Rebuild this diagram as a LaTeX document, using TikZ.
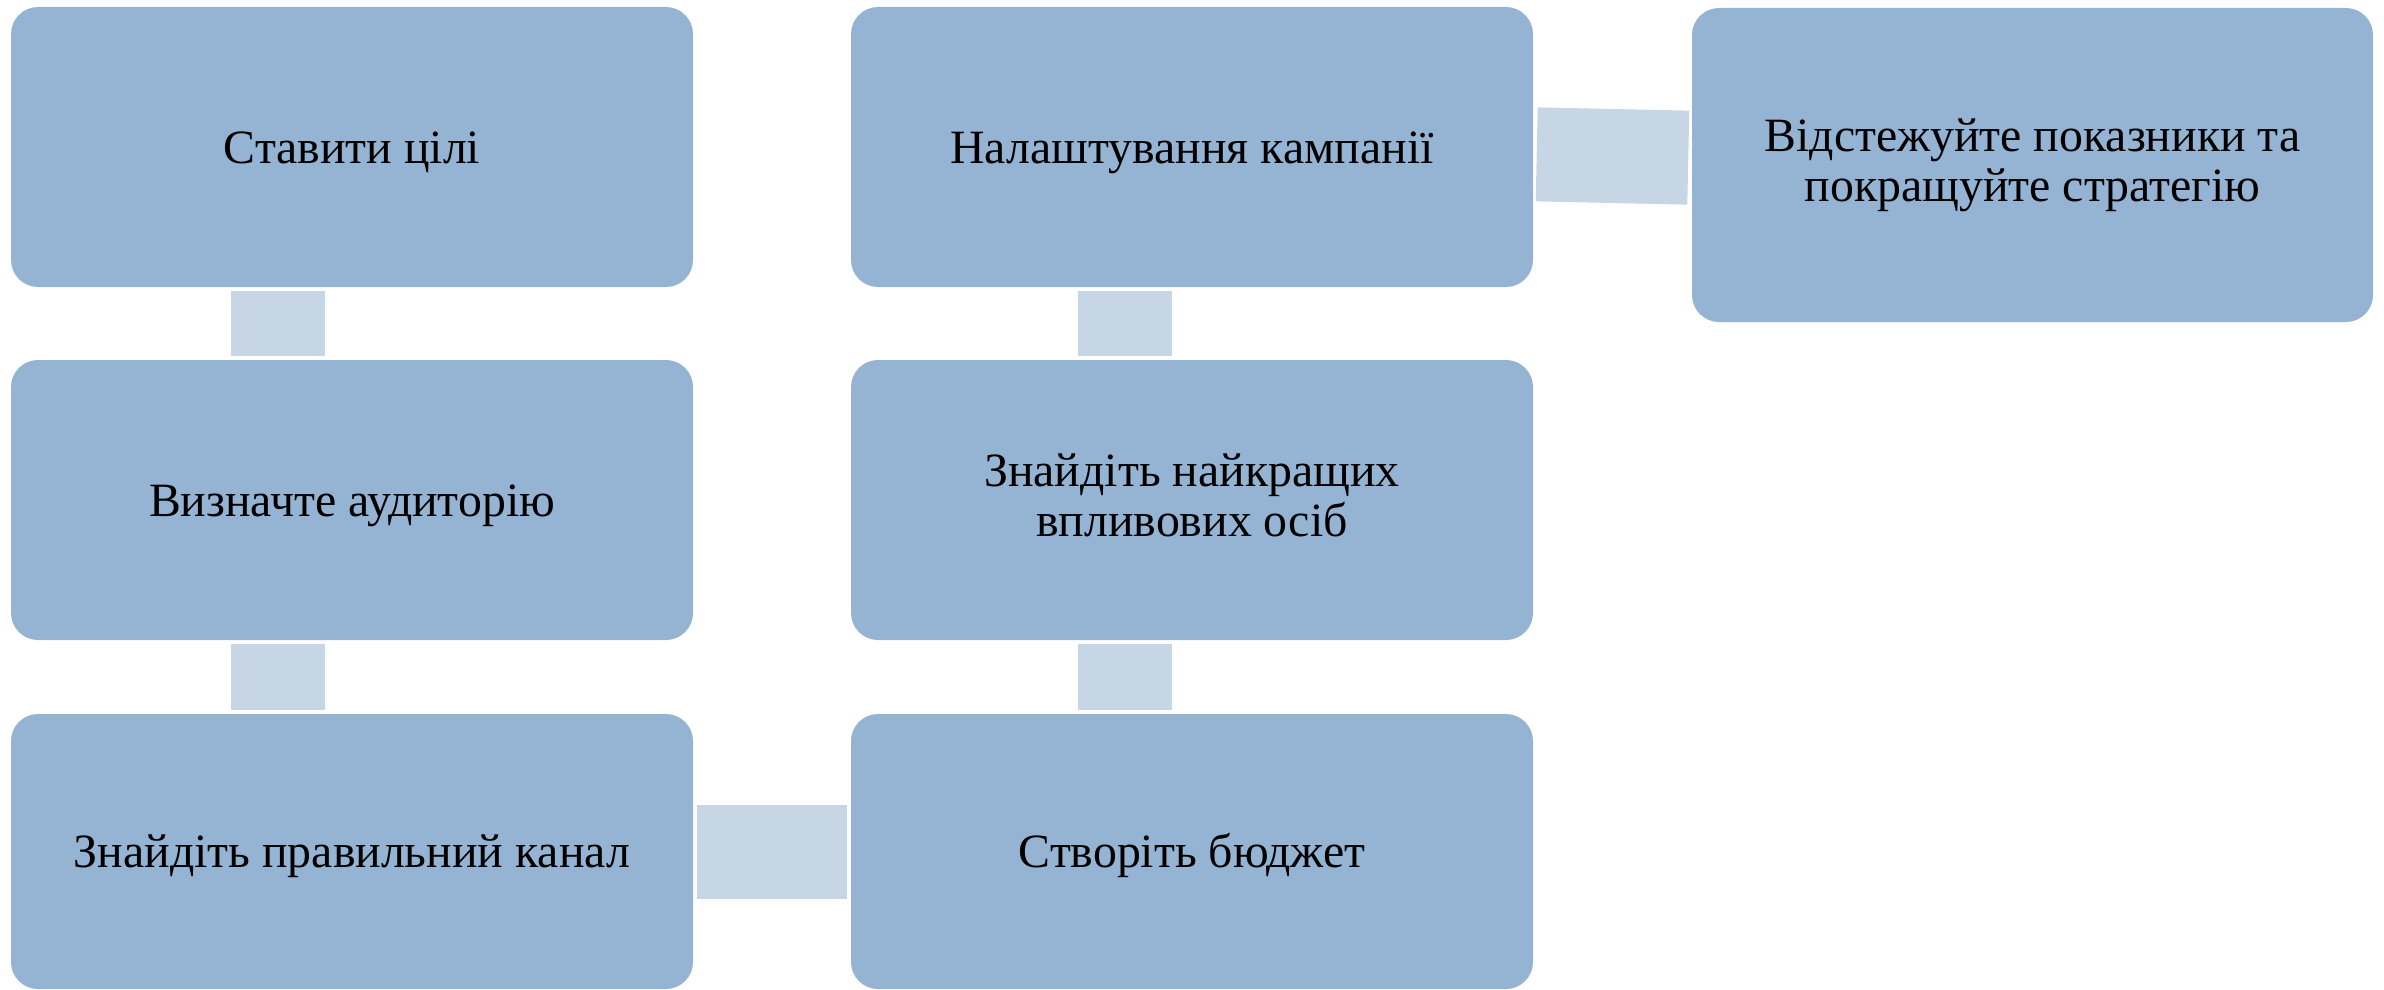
\documentclass[tikz,border=0pt]{standalone}
\usepackage{fontspec}
\setmainfont{Liberation Serif}
\usetikzlibrary{positioning}
\definecolor{stepblue}{RGB}{149,179,210}
\definecolor{linkblue}{RGB}{199,214,229}

\begin{document}
\begin{tikzpicture}[x=1cm,y=1cm,
    box/.style={fill=stepblue,rounded corners=0.27cm,align=center,
      minimum width=6.82cm,minimum height=2.8cm,inner sep=0pt,
      font=\fontsize{13.6}{14.2}\selectfont,
      execute at begin node={\rule{0pt}{12.1pt}},
      execute at end node={\rule[-2.9pt]{0pt}{2.9pt}}},
    link/.style={draw=linkblue,line width=0.94cm,shorten <=0.03cm,shorten >=0.03cm}]
    \useasboundingbox (0,0) rectangle (23.84,-9.9);
    % left column
    \node[box] (goal) at (3.52,-1.47) {Ставити цілі};
    \node[box] (aud) at (3.52,-5.00) {Визначте аудиторію};
    \node[box,minimum height=2.75cm] (chan) at (3.52,-8.515) {Знайдіть правильний канал};
    % middle column
    \node[box] (camp) at (11.92,-1.47) {Налаштування кампанії};
    \node[box] (infl) at (11.92,-5.00) {Знайдіть найкращих\\впливових осіб};
    \node[box,minimum height=2.75cm] (budg) at (11.92,-8.515) {Створіть бюджет};
    % right
    \node[box,minimum width=6.81cm,minimum height=3.14cm] (track) at (20.325,-1.65)
      {Відстежуйте показники та\\покращуйте стратегію};
    % connectors
    \draw[link] ([xshift=-0.74cm]goal.south) -- ([xshift=-0.74cm]aud.north);
    \draw[link] ([xshift=-0.74cm]aud.south) -- ([xshift=-0.74cm]chan.north);
    \draw[link] (chan) -- (budg);
    \draw[link] ([xshift=-0.67cm]budg.north) -- ([xshift=-0.67cm]infl.south);
    \draw[link] ([xshift=-0.67cm]infl.north) -- ([xshift=-0.67cm]camp.south);
    \draw[link] (camp) -- (track);
  \end{tikzpicture}
\end{document}
